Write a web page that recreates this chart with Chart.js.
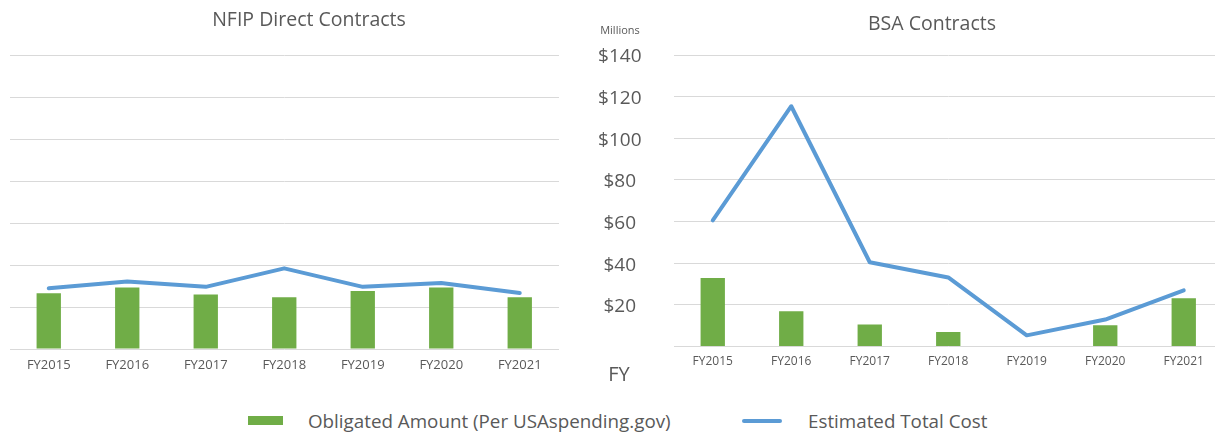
<!DOCTYPE html>
<html>
<head>
<meta charset="utf-8">
<script src="https://cdn.jsdelivr.net/npm/chart.js@4.4.1/dist/chart.umd.min.js"></script>
<style>
  html, body { margin:0; padding:0; background:#fff; overflow:hidden; width:1215px; height:432px; }
  body { position:relative; font-family:"Open Sans", "Noto Sans", sans-serif; color:#595959; }
  .abs { position:absolute; white-space:nowrap; }
  .c { transform:translate(-50%,-50%); }
  #wrapL { position:absolute; left:0; top:0; width:570px; height:390px; }
  #wrapR { position:absolute; left:570px; top:0; width:660px; height:390px; }
</style>
</head>
<body>
<div id="wrapL"><canvas id="left"></canvas></div>
<div id="wrapR"><canvas id="right"></canvas></div>

<div class="abs c" style="left:309px; top:18px; font-size:19.5px;">NFIP Direct Contracts</div>
<div class="abs c" style="left:932px; top:22px; font-size:19.5px;">BSA Contracts</div>
<div class="abs c" style="left:620px; top:29px; font-size:11px;">Millions</div>
<div class="abs c" style="left:619px; top:373px; font-size:20px;">FY</div>

<div class="abs" style="left:248px; top:416px; width:35px; height:9px; background:#70AD47;"></div>
<div class="abs" style="left:308px; top:421px; transform:translateY(-50%); font-size:18.8px;">Obligated Amount (Per USAspending.gov)</div>
<div class="abs" style="left:742px; top:419px; width:40px; height:4px; background:#5B9BD5; border-radius:2px;"></div>
<div class="abs" style="left:808px; top:421px; transform:translateY(-50%); font-size:18.8px;">Estimated Total Cost</div>

<script>
const categories = ['FY2015','FY2016','FY2017','FY2018','FY2019','FY2020','FY2021'];
const nfipObligated = [26.5, 29.3, 25.9, 24.6, 27.6, 29.3, 24.6];
const nfipEstimated = [28.9, 32.1, 29.6, 38.4, 29.6, 31.4, 26.7];
const bsaObligated  = [32.9, 17.0, 10.6, 7.0, 0, 10.2, 23.2];
const bsaEstimated  = [60.6, 115.4, 40.5, 33.2, 5.4, 13.0, 27.0];
const yMin = 0, yMax = 140, yStep = 20;
const seriesNames = ['Obligated Amount (Per USAspending.gov)', 'Estimated Total Cost'];

const GREEN = '#70AD47', BLUE = '#5B9BD5', TEXT = '#595959', GRID = '#d9d9d9';
const FONT = '"Open Sans", "Noto Sans", sans-serif';

function makeDatasets(bars, line) {
  return [
    { type:'line', label:seriesNames[1], data:line, borderColor:BLUE, backgroundColor:BLUE,
      borderWidth:4, pointRadius:0, tension:0, borderCapStyle:'round', borderJoinStyle:'round', order:0 },
    { type:'bar', label:seriesNames[0], data:bars, backgroundColor:GREEN, borderWidth:0,
      barPercentage:0.31, categoryPercentage:1, order:1 }
  ];
}

function makeOptions(cfg) {
  return {
    responsive:true, maintainAspectRatio:false, animation:false,
    layout:{ padding:{ left:cfg.padLeft, right:cfg.padRight, top:55, bottom:0 } },
    plugins:{ legend:{display:false}, title:{display:false}, tooltip:{enabled:false} },
    scales:{
      x:{
        grid:{ display:false, drawTicks:false },
        border:{ display:false },
        ticks:{ color:TEXT, font:{ family:FONT, size:cfg.xSize }, padding:8, maxRotation:0, autoSkip:false },
        afterFit:(s)=>{ s.height = 41; }
      },
      y:{
        min:yMin, max:yMax,
        grid:{ color:GRID, lineWidth:1, drawTicks:false },
        border:{ display:false },
        ticks:{ display:cfg.showY, stepSize:yStep, color:TEXT, font:{ family:FONT, size:19 },
          crossAlign:'center', padding:cfg.yPad, labelOffset:2,
          callback:(v)=> v === 0 ? '' : '$' + v },
        afterFit:(s)=>{ s.width = cfg.yWidth; }
      }
    }
  };
}

new Chart(document.getElementById('left'), {
  data:{ labels:categories, datasets:makeDatasets(nfipObligated, nfipEstimated) },
  options:makeOptions({ padLeft:9.5, padRight:11, showY:false, yWidth:0, yPad:0, xSize:13 })
});

new Chart(document.getElementById('right'), {
  data:{ labels:categories, datasets:makeDatasets(bsaObligated, bsaEstimated) },
  options:makeOptions({ padLeft:0, padRight:7, showY:true, yWidth:103.5, yPad:32, xSize:12 })
});
</script>
</body>
</html>
